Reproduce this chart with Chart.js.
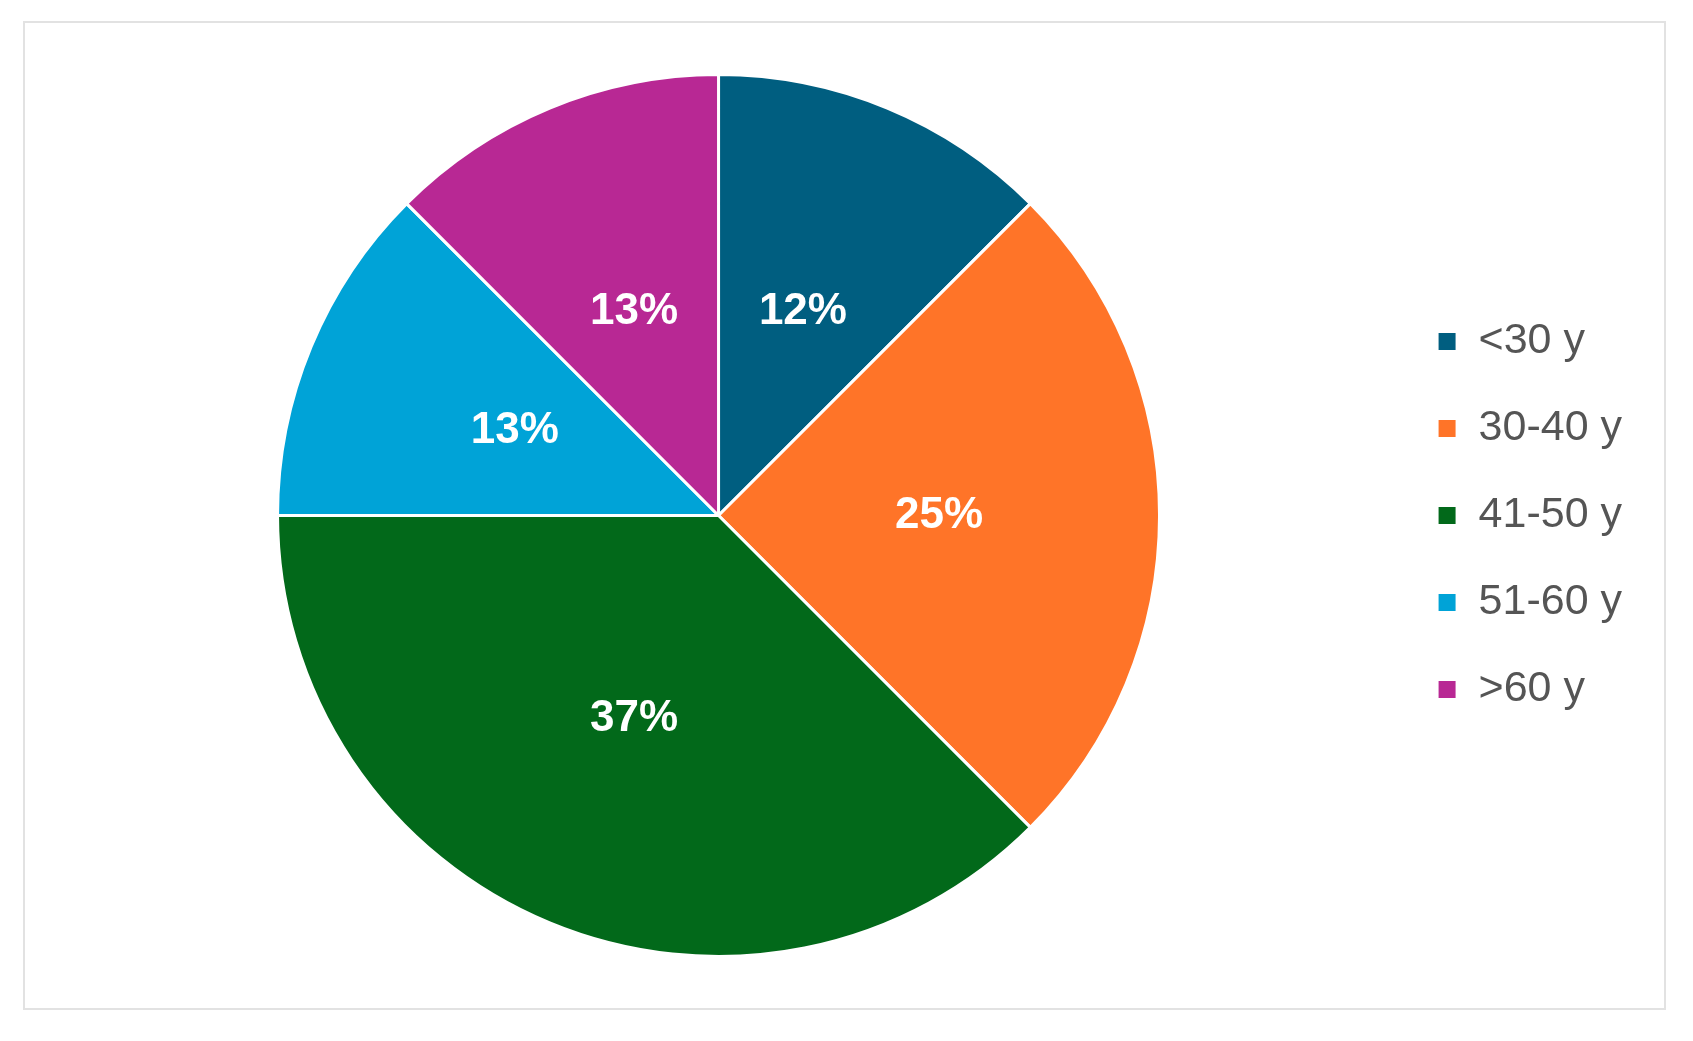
<!DOCTYPE html>
<html><head><meta charset="utf-8">
<script src="https://cdn.jsdelivr.net/npm/chart.js@4"></script>
<style>
html,body{margin:0;padding:0;background:#fff;}
#box{position:absolute;left:23px;top:21px;width:1643px;height:989px;border:2px solid #e2e2e2;box-sizing:border-box;}
canvas{display:block;}
</style></head><body>
<div id="box"><canvas id="c"></canvas></div>
<script>
const categories = ["<30 y","30-40 y","41-50 y","51-60 y",">60 y"];
const shares = [12.5,25,37.5,12.5,12.5];
const shareLabels = ["12%","25%","37%","13%","13%"];
const colors = ["#005e80","#ff7428","#02691a","#00a3d7","#b82894"];

const labelPlugin = {
  id:'sliceLabels',
  afterDatasetsDraw(chart){
    const ctx = chart.ctx;
    const meta = chart.getDatasetMeta(0);
    ctx.save();
    ctx.font = 'bold 44px "Liberation Sans", Arial, sans-serif';
    ctx.fillStyle = '#fff';
    ctx.textAlign = 'center';
    ctx.textBaseline = 'middle';
    meta.data.forEach((arc,i)=>{
      const p = arc.tooltipPosition();
      ctx.fillText(shareLabels[i], p.x, p.y);
    });
    ctx.restore();
  }
};

new Chart(document.getElementById('c'),{
  type:'pie',
  data:{labels:categories,datasets:[{data:shares,backgroundColor:colors,borderColor:'#fff',borderWidth:3}]},
  options:{
    responsive:true,maintainAspectRatio:false,animation:false,
    layout:{padding:{top:50,bottom:50,left:19,right:32}},
    plugins:{
      tooltip:{enabled:false},
      legend:{position:'right',align:'center',
        labels:{font:{family:'"Liberation Sans", Arial, sans-serif',size:43},color:'#555',
          boxWidth:20,boxHeight:20,padding:44}}
    }
  },
  plugins:[labelPlugin]
});
</script>
</body></html>
